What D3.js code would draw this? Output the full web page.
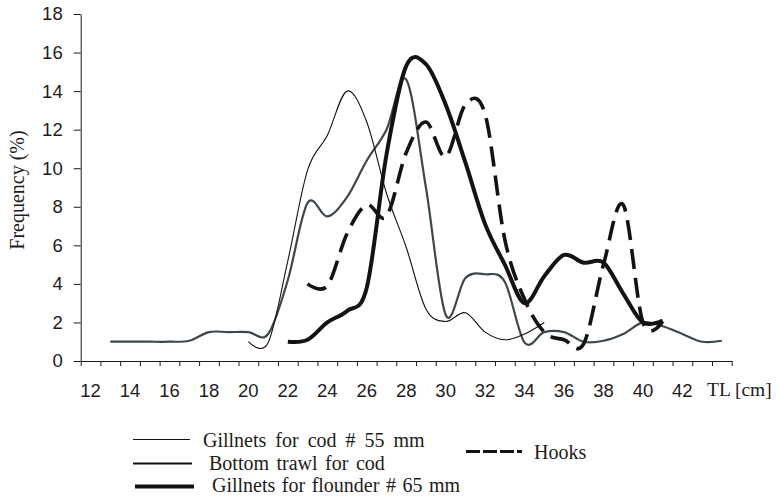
<!DOCTYPE html>
<html>
<head>
<meta charset="utf-8">
<script src="https://cdn.jsdelivr.net/npm/d3@7"></script>
<style>
  html, body { margin: 0; padding: 0; background: #ffffff; }
  svg { display: block; }
</style>
</head>
<body>
<svg id="chart" width="776" height="497"></svg>
<script>
// ---- data (length class in cm, frequency in %) ----
const gillCodLen  = [20, 21, 22, 23, 24, 25, 26, 27, 28, 29, 30, 31, 32, 33, 34, 35];
const gillCodFreq = [1.0, 0.95, 5.2, 9.9, 11.7, 14.0, 12.4, 8.7, 5.9, 2.7, 2.05, 2.5, 1.5, 1.1, 1.4, 2.0];

const trawlLen  = [13, 14, 15, 16, 17, 18, 19, 20, 21, 22, 23, 24, 25, 26, 27, 28, 29, 30, 31, 32, 33, 34, 35, 36, 37, 38, 39, 40, 41, 42, 43, 44];
const trawlFreq = [1.0, 1.0, 1.0, 1.0, 1.05, 1.5, 1.5, 1.5, 1.4, 4.2, 8.2, 7.5, 8.5, 10.4, 12.0, 14.6, 9.0, 2.4, 4.3, 4.5, 4.1, 0.95, 1.5, 1.5, 1.0, 1.05, 1.4, 2.0, 1.8, 1.4, 1.0, 1.05];

const flounderLen  = [22, 23, 24, 25, 26, 27, 28, 29, 30, 31, 32, 33, 34, 35, 36, 37, 38, 39, 40, 41];
const flounderFreq = [1.0, 1.1, 2.0, 2.6, 3.8, 10.7, 15.3, 15.4, 13.3, 10.3, 7.1, 5.0, 3.0, 4.4, 5.5, 5.1, 5.1, 3.5, 2.0, 2.1];

const hooksLen  = [23, 24, 25, 26, 27, 28, 29, 30, 31, 32, 33, 34, 35, 36, 37, 38, 39, 40, 41];
const hooksFreq = [4.0, 3.9, 6.6, 8.1, 7.5, 10.8, 12.4, 10.6, 13.3, 12.8, 6.3, 3.2, 1.5, 1.1, 0.9, 5.0, 8.1, 2.0, 2.05];

const xCategories = [12, 13, 14, 15, 16, 17, 18, 19, 20, 21, 22, 23, 24, 25, 26, 27, 28, 29, 30, 31, 32, 33, 34, 35, 36, 37, 38, 39, 40, 41, 42, 43, 44];
const xTickLabels = [12, 14, 16, 18, 20, 22, 24, 26, 28, 30, 32, 34, 36, 38, 40, 42];
const yTickValues = [0, 2, 4, 6, 8, 10, 12, 14, 16, 18];

const legendLabels = ["Gillnets for cod # 55 mm", "Bottom trawl for cod", "Gillnets for flounder # 65 mm", "Hooks"];

// ---- layout ----
const svg = d3.select("#chart");
const sansFont = "'Liberation Sans', Arial, sans-serif";
const serifFont = "'Liberation Serif', 'Times New Roman', serif";
const ink = "#1e1b1c";

const xBand = d3.scaleBand().domain(xCategories).range([80.7, 731.7]).paddingInner(0).paddingOuter(0);
const x = d3.scaleLinear().domain([11.5, 44.5]).range([80.7, 731.7]);
const y = d3.scaleLinear().domain([0, 18]).range([361, 14]);

// y axis
const yAxis = svg.append("g")
  .attr("transform", "translate(80.7,0)")
  .call(d3.axisLeft(y).tickValues(yTickValues).tickSize(7).tickPadding(11).tickSizeOuter(0));
yAxis.select(".domain").attr("stroke", ink).attr("stroke-width", 1);
yAxis.selectAll(".tick line").attr("stroke", ink).attr("stroke-width", 1);
yAxis.selectAll(".tick text").attr("font-family", sansFont).attr("font-size", 18.5).attr("fill", ink);

// x axis: ticks at category boundaries
const boundaries = xCategories.map(c => xBand(c)).concat([xBand(xCategories[xCategories.length - 1]) + xBand.bandwidth()]);
const xAxis = svg.append("g")
  .attr("transform", "translate(0,361)")
  .call(d3.axisBottom(d3.scaleIdentity().domain([80.7, 731.7])).tickValues(boundaries).tickSize(5).tickSizeOuter(0).tickFormat(""));
xAxis.select(".domain").attr("stroke", ink).attr("stroke-width", 1);
xAxis.selectAll(".tick line").attr("stroke", ink).attr("stroke-width", 1);

svg.append("g").selectAll("text")
  .data(xTickLabels)
  .join("text")
  .attr("x", d => xBand(d) + xBand.bandwidth() / 2)
  .attr("y", 397)
  .attr("text-anchor", "middle")
  .attr("font-family", sansFont)
  .attr("font-size", 18.5)
  .attr("fill", ink)
  .text(d => d);

// axis titles
svg.append("text")
  .attr("x", 707).attr("y", 396)
  .attr("font-family", serifFont).attr("font-size", 19.5).attr("fill", ink)
  .text("TL [cm]");

svg.append("text")
  .attr("transform", "translate(24,190) rotate(-90)")
  .attr("text-anchor", "middle")
  .attr("font-family", serifFont).attr("font-size", 20).attr("fill", ink)
  .text("Frequency (%)");

// ---- series ----
const line = d3.line()
  .x(d => x(d[0]))
  .y(d => y(d[1]))
  .curve(d3.curveCardinal.tension(0));

const zip = (a, b) => a.map((v, i) => [v, b[i]]);

const series = [
  { pts: zip(trawlLen, trawlFreq), stroke: "#3d484d", width: 2.2, dash: null },
  { pts: zip(gillCodLen, gillCodFreq), stroke: "#141213", width: 1.1, dash: null },
  { pts: zip(hooksLen, hooksFreq), stroke: "#141213", width: 3.6, dash: "20,9" },
  { pts: zip(flounderLen, flounderFreq), stroke: "#141213", width: 4, dash: null }
];

svg.append("g").selectAll("path")
  .data(series)
  .join("path")
  .attr("d", d => line(d.pts))
  .attr("fill", "none")
  .attr("stroke", d => d.stroke)
  .attr("stroke-width", d => d.width)
  .attr("stroke-dasharray", d => d.dash)
  .attr("stroke-linejoin", "round");

// ---- legend ----
const legendItems = [
  { label: legendLabels[0], x1: 133, x2: 190, ly: 439.5, tx: 203, ty: 447, width: 1.1, dash: null, ws: 4 },
  { label: legendLabels[1], x1: 133, x2: 192, ly: 463.5, tx: 209, ty: 469.5, width: 2.2, dash: null, ws: 2.5 },
  { label: legendLabels[2], x1: 135, x2: 194, ly: 486.5, tx: 212, ty: 492, width: 4, dash: null, ws: 1.5 },
  { label: legendLabels[3], x1: 466, x2: 522, ly: 451.5, tx: 534, ty: 458.5, width: 3, dash: "14,3", ws: 0 }
];

const lg = svg.append("g");
lg.selectAll("line")
  .data(legendItems)
  .join("line")
  .attr("x1", d => d.x1).attr("x2", d => d.x2)
  .attr("y1", d => d.ly).attr("y2", d => d.ly)
  .attr("stroke", "#141213")
  .attr("stroke-width", d => d.width)
  .attr("stroke-dasharray", d => d.dash);
lg.selectAll("text")
  .data(legendItems)
  .join("text")
  .attr("x", d => d.tx).attr("y", d => d.ty)
  .attr("font-family", serifFont).attr("font-size", 20).attr("fill", ink)
  .attr("word-spacing", d => d.ws)
  .text(d => d.label);
</script>
</body>
</html>
